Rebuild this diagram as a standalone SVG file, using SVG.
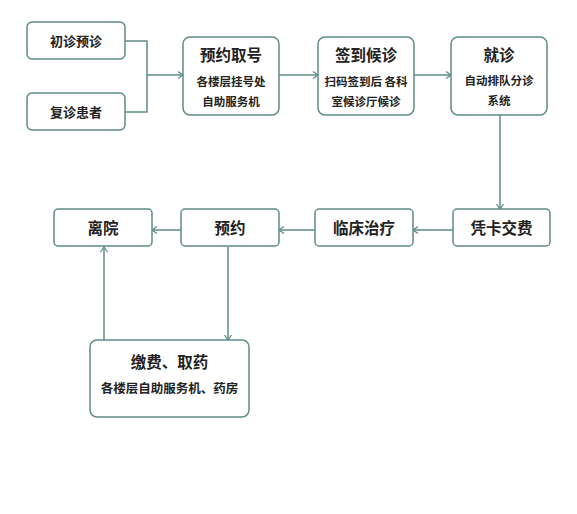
<svg xmlns="http://www.w3.org/2000/svg" width="577" height="514" viewBox="0 0 577 514">
<style>
.box{fill:#fff;stroke:#5e8c89;stroke-width:1.5}
.ln{fill:none;stroke:#5e8c89;stroke-width:1.5}
text{font-family:"Noto Sans CJK SC","Noto Sans",sans-serif;fill:#222;text-anchor:middle;font-weight:700}
.t{font-size:15.5px}
.s{font-size:11.5px}
.m{font-size:13px}
</style>
<defs>
<marker id="a" markerWidth="10" markerHeight="10" refX="8" refY="5" orient="auto" markerUnits="userSpaceOnUse">
<path d="M3,1.5 L8,5 L3,8.5" fill="none" stroke="#5e8c89" stroke-width="1.3"/>
</marker>
</defs>
<rect width="577" height="514" fill="#fff"/>
<g id="connectors">
<path class="ln" d="M125,41 H147 V112 H125"/>
<path class="ln" d="M147,75 H183" marker-end="url(#a)"/>
<path class="ln" d="M279,75 H318" marker-end="url(#a)"/>
<path class="ln" d="M414,75 H451" marker-end="url(#a)"/>
<path class="ln" d="M500,115 V209" marker-end="url(#a)"/>
<path class="ln" d="M453,230 H413" marker-end="url(#a)"/>
<path class="ln" d="M315,230 H279" marker-end="url(#a)"/>
<path class="ln" d="M181,230 H152" marker-end="url(#a)"/>
<path class="ln" d="M228,247 V340" marker-end="url(#a)"/>
<path class="ln" d="M104,340 V247" marker-end="url(#a)"/>
</g>
<g id="n1"><rect class="box" x="27" y="22" width="98" height="37" rx="5"/><text class="m" x="76" y="45.5">初诊预诊</text></g>
<g id="n2"><rect class="box" x="27" y="93" width="98" height="37" rx="5"/><text class="m" x="76" y="116.5">复诊患者</text></g>
<g id="n3"><rect class="box" x="183" y="37" width="96" height="78" rx="7"/><text class="t" x="231" y="61">预约取号</text><text class="s" x="231" y="86">各楼层挂号处</text><text class="s" x="231" y="106">自助服务机</text></g>
<g id="n4"><rect class="box" x="318" y="37" width="96" height="78" rx="7"/><text class="t" x="366" y="61">签到候诊</text><text class="s" x="366" y="86" xml:space="preserve">扫码签到后 各科</text><text class="s" x="366" y="106">室候诊厅候诊</text></g>
<g id="n5"><rect class="box" x="451" y="37" width="96" height="78" rx="7"/><text class="t" x="499" y="61">就诊</text><text class="s" x="499" y="85">自动排队分诊</text><text class="s" x="499" y="105">系统</text></g>
<g id="n6"><rect class="box" x="453" y="209" width="97" height="37" rx="4"/><text class="t" x="501.5" y="233.5">凭卡交费</text></g>
<g id="n7"><rect class="box" x="315" y="209" width="98" height="37" rx="4"/><text class="t" x="364" y="233.5">临床治疗</text></g>
<g id="n8"><rect class="box" x="181" y="209" width="98" height="37" rx="4"/><text class="t" x="230" y="233.5">预约</text></g>
<g id="n9"><rect class="box" x="54" y="209" width="98" height="37" rx="4"/><text class="t" x="103" y="233.5">离院</text></g>
<g id="n10"><rect class="box" x="90" y="340" width="159" height="77" rx="7"/><text class="t" x="169.5" y="368">缴费、取药</text><text class="s" x="169.5" y="393" style="font-size:12.5px">各楼层自助服务机、药房</text></g>
</svg>
